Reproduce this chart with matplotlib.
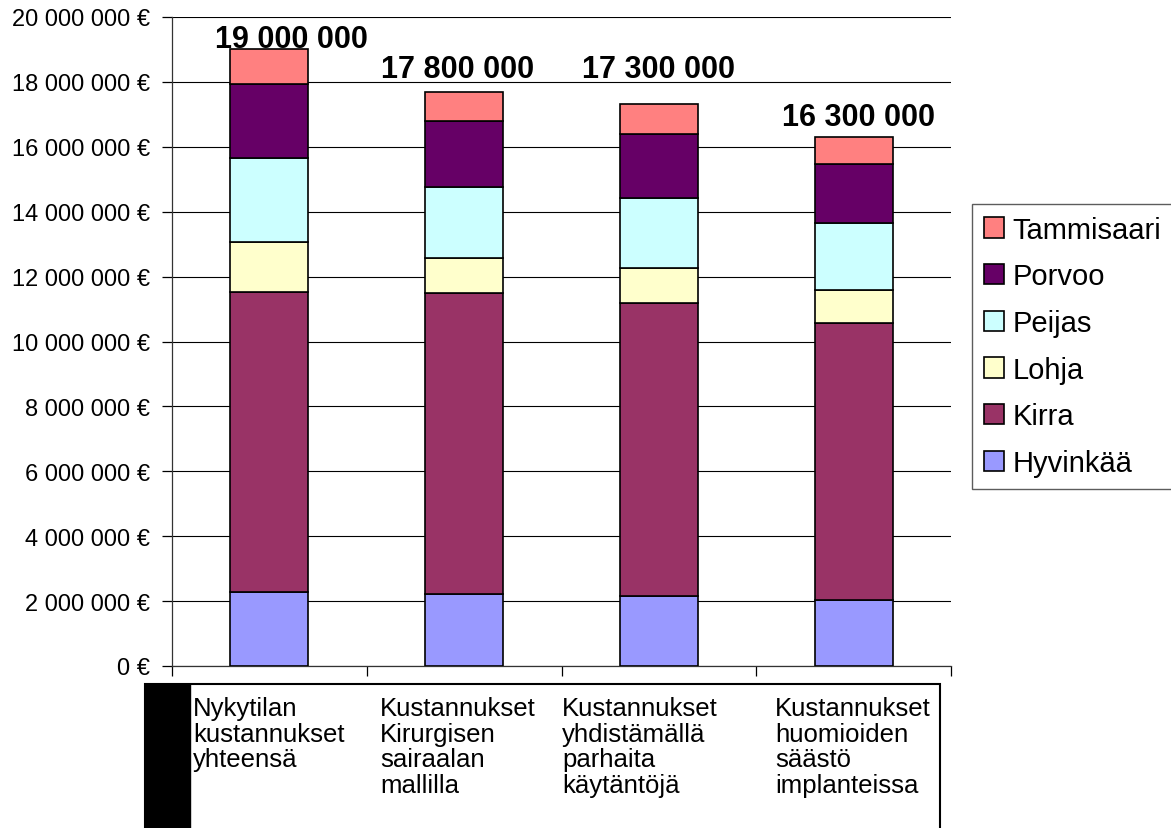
import matplotlib
matplotlib.use("Agg")
import matplotlib.pyplot as plt
from matplotlib.patches import Rectangle
from matplotlib.ticker import FuncFormatter

plt.rcParams['font.family'] = ['Liberation Sans', 'DejaVu Sans']

# Data (values in euros)
categories = [
    "Nykytilan\nkustannukset\nyhteensä",
    "Kustannukset\nKirurgisen\nsairaalan\nmallilla",
    "Kustannukset\nyhdistämällä\nparhaita\nkäytäntöjä",
    "Kustannukset\nhuomioiden\nsäästö\nimplanteissa",
]
series_names = ["Hyvinkää", "Kirra", "Lohja", "Peijas", "Porvoo", "Tammisaari"]
hyvinkaa = [2280000, 2220000, 2160000, 2030000]
kirra = [9260000, 9280000, 9020000, 8540000]
lohja = [1520000, 1070000, 1080000, 1030000]
peijas = [2610000, 2200000, 2170000, 2040000]
porvoo = [2250000, 2010000, 1970000, 1820000]
tammisaari = [1080000, 900000, 920000, 830000]
total_labels = ["19 000 000", "17 800 000", "17 300 000", "16 300 000"]

series = [hyvinkaa, kirra, lohja, peijas, porvoo, tammisaari]
colors = ["#9999FF", "#993366", "#FFFFCC", "#CCFFFF", "#660066", "#FF8080"]

W, H = 1171, 829
fig = plt.figure(figsize=(W / 100, H / 100), dpi=100)
ax = fig.add_axes([172 / W, 1 - 667 / H, (951 - 172) / W, (667 - 18) / H])

x = range(len(categories))
bottoms = [0] * len(categories)
handles = []
for name, vals, col in zip(series_names, series, colors):
    h = ax.bar(x, vals, width=0.4, bottom=bottoms, color=col,
               edgecolor="black", linewidth=1.2, label=name, zorder=3)
    handles.append(h)
    bottoms = [b + v for b, v in zip(bottoms, vals)]

ax.set_xlim(-0.5, len(categories) - 0.5)
ax.set_ylim(0, 20000000)
ax.set_yticks(range(0, 20000001, 2000000))
ax.yaxis.set_major_formatter(FuncFormatter(
    lambda v, p: "{:,.0f} €".format(v).replace(",", " ")))
ax.set_xticks([i - 0.5 for i in range(len(categories) + 1)])
ax.set_xticklabels([])
ax.grid(axis="y", color="black", linewidth=0.8, zorder=0)
for s in ["top", "right"]:
    ax.spines[s].set_visible(False)
for s in ["left", "bottom"]:
    ax.spines[s].set_color("#333333")
    ax.spines[s].set_linewidth(0.9)
ax.tick_params(axis="y", direction="out", length=7, width=0.9,
               labelsize=17, pad=9)
ax.tick_params(axis="x", direction="out", length=7, width=0.9)

# total labels (pixel positions of their centres)
label_pos = [(291, 40), (458, 70), (658, 70), (858, 118)]
for txt, (px, py) in zip(total_labels, label_pos):
    fig.text(px / W, 1 - py / H, txt, ha="center", va="center",
             fontsize=22, fontweight="bold")

# legend, reversed order like the original
leg = fig.legend(handles[::-1], series_names[::-1], loc="upper left",
                 bbox_to_anchor=(972 / W, 1 - 205 / H), fontsize=21,
                 frameon=True, fancybox=False, shadow=False,
                 handlelength=0.7, handleheight=0.7, handletextpad=0.3,
                 labelspacing=0.64, borderpad=0.4, borderaxespad=0)
leg.get_frame().set_edgecolor("#333333")
leg.get_frame().set_linewidth(1.0)

# category table under the chart
top_px = 685
fig.patches.append(Rectangle((145 / W, -0.05), (940 - 145) / W,
                             1 - top_px / H + 0.05, transform=fig.transFigure,
                             facecolor="white", edgecolor="black",
                             linewidth=1.5))
fig.patches.append(Rectangle((145 / W, -0.05), (190 - 145) / W,
                             1 - top_px / H + 0.05, transform=fig.transFigure,
                             facecolor="black", edgecolor="black"))
col_x = [193, 380, 562, 775]
for txt, cx in zip(categories, col_x):
    fig.text(cx / W, 1 - 697 / H, txt, ha="left", va="top", fontsize=18.5,
             linespacing=1.08)

fig.savefig("out.png", dpi=100)
